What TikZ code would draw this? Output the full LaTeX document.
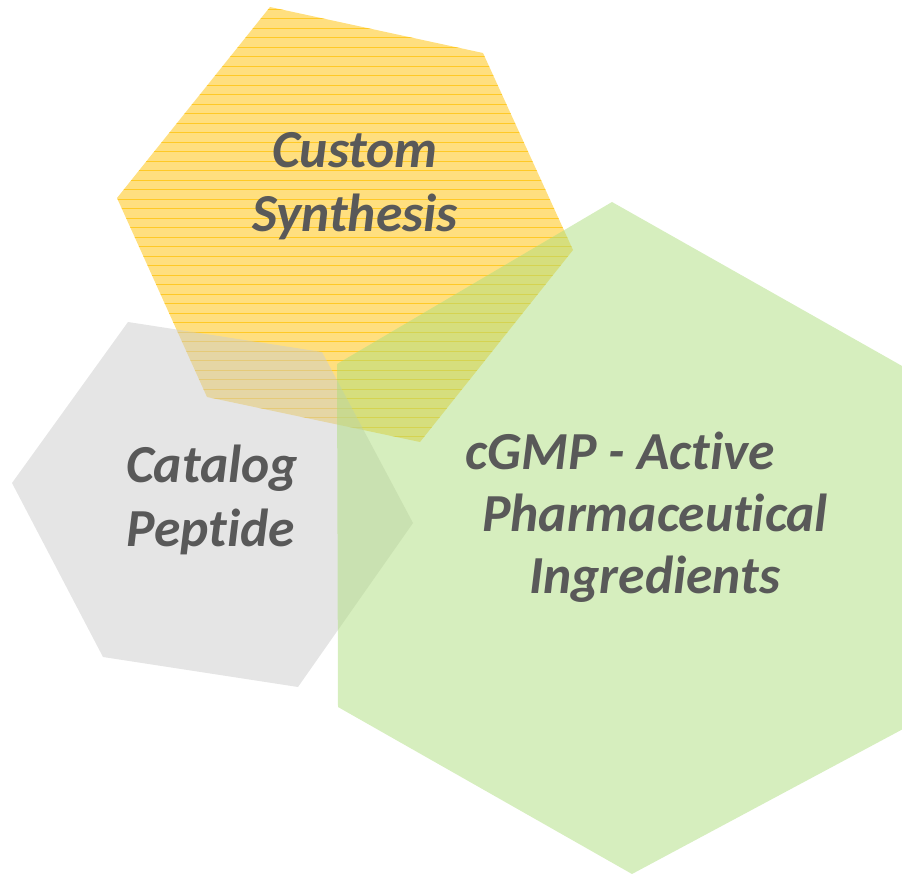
\documentclass[tikz,border=0pt]{standalone}
\usepackage{fontspec}
\setmainfont{Carlito}[Ligatures=NoCommon]
\definecolor{ygold}{HTML}{FFC000}
\definecolor{ggray}{HTML}{CCCCCC}
\definecolor{lgreen}{HTML}{ADDD7D}
\definecolor{txtgray}{HTML}{595959}
\begin{document}
\begin{tikzpicture}[x=1pt,y=-1pt,
  hexyellow/.style={fill=ygold,fill opacity=0.5,draw=none},
  hexgray/.style={fill=ggray,fill opacity=0.5,draw=none},
  hexgreen/.style={fill=lgreen,fill opacity=0.5,draw=none},
  stripe/.style={draw=ygold,line width=0.8pt,opacity=0.7},
  label/.style={font=\fontsize{53.5}{62}\selectfont\bfseries\itshape,text=txtgray,anchor=base,inner sep=0pt}]
\useasboundingbox (0,0) rectangle (902,874);
\begin{scope}
\clip (0,0) rectangle (902,874);
% yellow hexagon
\path[hexyellow] (270,7) -- (483,53) -- (573,250) -- (420,442) -- (207,397) -- (117,198) -- cycle;
\begin{scope}
\clip (270,7) -- (483,53) -- (573,250) -- (420,442) -- (207,397) -- (117,198) -- cycle;
\foreach \yy in {9,18.5,...,445} \draw[stripe] (110,\yy) -- (580,\yy);
\end{scope}
% gray hexagon
\path[hexgray] (128,322) -- (322,352) -- (413,523) -- (298,687) -- (103,657) -- (12,483) -- cycle;
% green hexagon
\path[hexgreen] (612,202) -- (918,375) -- (918,721) -- (632,874) -- (338,707) -- (337,364) -- cycle;
\end{scope}
% labels
\node[label] (cs1) at (355,168) {Custom};
\node[label] (cs2) at (355,232) {Synthesis};
\node[label] (cp1) at (212,482) {Catalog};
\node[label] (cp2) at (211,546) {Peptide};
\node[label,anchor=base west] (ga1) at (465,469) {cGMP - Active};
\node[label,anchor=base west] (ga2) at (482,531) {Pharmaceutical};
\node[label,anchor=base west] (ga3) at (529,593) {Ingredients};
\end{tikzpicture}
\end{document}
